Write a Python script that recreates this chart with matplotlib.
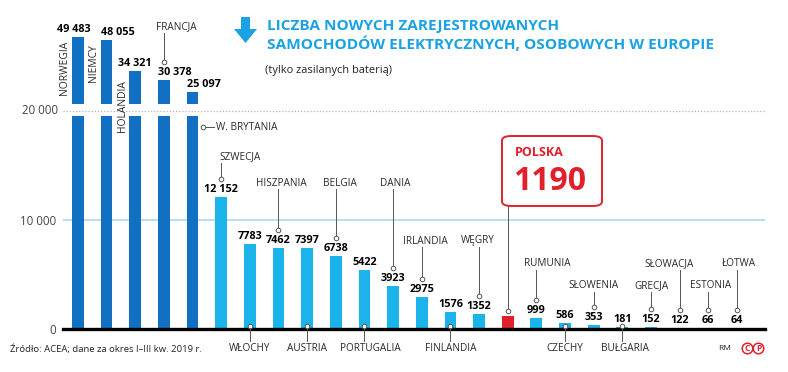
import matplotlib
matplotlib.use("Agg")
import matplotlib.pyplot as plt
from matplotlib.patches import FancyBboxPatch, Polygon
from matplotlib.lines import Line2D
from matplotlib.transforms import Affine2D

plt.rcParams['font.family'] = ['Open Sans', 'DejaVu Sans']

countries = ["NORWEGIA", "NIEMCY", "HOLANDIA", "FRANCJA", "W. BRYTANIA", "SZWECJA",
             "WŁOCHY", "HISZPANIA", "AUSTRIA", "BELGIA", "PORTUGALIA", "DANIA",
             "IRLANDIA", "FINLANDIA", "WĘGRY", "POLSKA", "RUMUNIA", "CZECHY",
             "SŁOWENIA", "BUŁGARIA", "GRECJA", "SŁOWACJA", "ESTONIA", "ŁOTWA"]
values = [49483, 48055, 34321, 30378, 25097, 12152, 7783, 7462, 7397, 6738, 5422,
          3923, 2975, 1576, 1352, 1190, 999, 586, 353, 181, 152, 122, 66, 64]
value_labels = ["49 483", "48 055", "34 321", "30 378", "25 097", "12 152", "7783",
                "7462", "7397", "6738", "5422", "3923", "2975", "1576", "1352", "1190",
                "999", "586", "353", "181", "152", "122", "66", "64"]
ytick_values = [0, 10000, 20000]
ytick_labels = ["0", "10 000", "20 000"]

W, H = 788, 372
DARK = "#1270c2"
LIGHT = "#1ab3ea"
RED = "#e1202c"
TITLE = "#1aa2e2"
GRAY = "#555555"
TXT = "#2a2a2a"

fig = plt.figure(figsize=(W / 100, H / 100), dpi=100)
PX = Affine2D().scale(1 / W, -1 / H).translate(0, 1) + fig.transFigure

# axes geometry (pixels)
L, R = 63, 765
low_top, low_bot = 116, 329
up_top, up_bot = 28, 103.8
ax_low = fig.add_axes([L / W, 1 - low_bot / H, (R - L) / W, (low_bot - low_top) / H])
ax_up = fig.add_axes([L / W, 1 - up_bot / H, (R - L) / W, (up_bot - up_top) / H])
n = len(values)
xs = list(range(n))
xlim = (-0.52, n - 0.02)
low_max = 10000 * (low_bot - low_top) / 109.0
up_max = 20000 + (up_bot - up_top) / 2.281 * 1000
for ax in (ax_low, ax_up):
    ax.set_xlim(*xlim)
    for s in ax.spines.values():
        s.set_visible(False)
    ax.set_xticks([])
    ax.patch.set_alpha(0)
ax_low.set_ylim(0, low_max)
ax_up.set_ylim(20000, up_max)
ax_up.set_yticks([])

colors = [DARK] * 5 + [LIGHT] * 10 + [RED] + [LIGHT] * 8
bw = 0.41
ax_low.bar(xs, values, width=bw, color=colors, zorder=2)
ax_up.bar(xs[:5], values[:5], width=bw, color=colors[:5], zorder=2)

# grid / baseline
ax_low.axhline(10000, color="#a6d3f0", lw=1.1, zorder=0)
ax_low.axhline(20000, color="#b4b4b4", lw=0.9, ls=(0, (1, 1.5)), zorder=0, clip_on=False)
ax_low.axhline(0, color="black", lw=2.4, zorder=3, clip_on=False)
ax_low.set_yticks(ytick_values[:2])
ax_low.set_yticklabels(ytick_labels[:2])
ax_low.tick_params(axis="y", length=0, pad=5, labelsize=8.3, labelcolor="#444444")
ax_low.text(-0.52 - 5 / 28.65, 20000, ytick_labels[2], transform=ax_low.transData,
            ha="right", va="center", fontsize=8.3, color="#444444")

fig.canvas.draw()


def top_px(i):
    ax = ax_up if values[i] > low_max else ax_low
    return H - ax.transData.transform((i, values[i]))[1]


def xpx(i, dx=0.0):
    return ax_low.transData.transform((i, 0))[0] + dx


def txt(x, y, s, **kw):
    kw.setdefault("fontsize", 7.2)
    kw.setdefault("color", TXT)
    fig.text(x, y, s, transform=PX, **kw)


def line(xs_, ys_, **kw):
    fig.add_artist(Line2D(xs_, ys_, transform=PX, color=GRAY, lw=0.7, zorder=5, **kw))


def dot(x, y):
    fig.add_artist(Line2D([x], [y], transform=PX, marker="o", ms=3.3, mfc="white",
                          mec=GRAY, mew=0.7, zorder=6))


# value labels
vl_style = {0: ("center", -4), 1: ("left", -6), 3: ("left", -6), 4: ("left", -6)}
for i in range(n):
    if i == 15:
        continue
    ha, dx = vl_style.get(i, ("center", 0))
    txt(xpx(i, dx), top_px(i) - 2, value_labels[i], ha=ha, va="bottom",
        fontsize=7.8, fontweight="bold", color="black")

# vertical labels
for i, bot in ((0, 95), (1, 82), (2, 132)):
    txt(xpx(i, -13), bot, countries[i], rotation=90, ha="center", va="bottom",
        fontsize=7.4)

# France label
txt(xpx(3, 12), 27, countries[3], ha="center", va="center")
line([xpx(3), xpx(3)], [33, 62])
dot(xpx(3), 62)

# UK label
line([xpx(4, 10), xpx(4, 21)], [127, 127])
dot(xpx(4, 10), 127)
txt(xpx(4, 23), 127, countries[4], ha="left", va="center")

# labels above
above = {5: (157, -2, "left"), 7: (183, 3, "center"), 9: (183, 4, "center"),
         11: (183, 2, "center"), 12: (241, 4, "center"), 14: (241, -1, "center"),
         16: (264, 11, "center"), 18: (286, 0, "center"), 20: (286, 1, "center"),
         21: (264, -10, "center"), 22: (286, 2, "center"), 23: (264, 2, "center")}
for i, (ty, dx, ha) in above.items():
    cy = top_px(i) - 18
    txt(xpx(i, dx), ty, countries[i], ha=ha, va="center")
    line([xpx(i), xpx(i)], [ty + 6, cy])
    dot(xpx(i), cy)

# labels below
below = {6: 0, 8: 0, 10: 6, 13: 0, 17: 0, 19: 3}
for i, dx in below.items():
    cy = low_bot - 3.5
    line([xpx(i), xpx(i)], [cy, 341])
    dot(xpx(i), cy)
    txt(xpx(i, dx), 348.5, countries[i], ha="center", va="center")

# Polska box
bx0, by0, bx1, by1 = 502, 136, 602, 206
box = FancyBboxPatch((bx0 / W, 1 - by1 / H), (bx1 - bx0) / W, (by1 - by0) / H,
                     boxstyle="round,pad=0,rounding_size=0.012", transform=fig.transFigure,
                     fc="white", ec=RED, lw=1.4, zorder=7)
fig.add_artist(box)
txt(515, 153, countries[15], ha="left", va="center", fontsize=9, fontweight="bold",
    color=RED, zorder=8)
txt(513, 182, value_labels[15], ha="left", va="center", fontsize=23, fontweight="bold",
    color=RED, zorder=8)
pcy = top_px(15) - 5
line([xpx(15), xpx(15)], [by1, pcy])
dot(xpx(15), pcy)

# title
arrow = Polygon([(241, 17), (250, 17), (250, 29), (257, 29), (245.5, 43), (234, 29),
                 (241, 29)], closed=True, transform=PX, fc=TITLE, ec="none")
fig.add_artist(arrow)
txt(267, 26, "LICZBA NOWYCH ZAREJESTROWANYCH", ha="left", va="center", fontsize=11.1,
    fontweight="bold", color=TITLE)
txt(267, 44.5, "SAMOCHODÓW ELEKTRYCZNYCH, OSOBOWYCH W EUROPIE", ha="left",
    va="center", fontsize=11.1, fontweight="bold", color=TITLE)
txt(265, 70, "(tylko zasilanych baterią)", ha="left", va="center", fontsize=7.9,
    color="#222222")

# source / credits
txt(10, 349, "Źródło: ACEA; dane za okres I–III kw. 2019 r.", ha="left", va="center",
    fontsize=6.8, color="#222222")
txt(718, 349, "RM", ha="left", va="center", fontsize=6, color="#222222")
for cx, letter in ((747, "C"), (758.5, "P")):
    fig.add_artist(Line2D([cx], [348], transform=PX, marker="o", ms=7.6, mfc="white",
                          mec=RED, mew=1.1, zorder=6))
    txt(cx, 348.3, letter, ha="center", va="center", fontsize=6, fontweight="bold",
        color=RED, zorder=7)

fig.savefig("out.png", dpi=100)
